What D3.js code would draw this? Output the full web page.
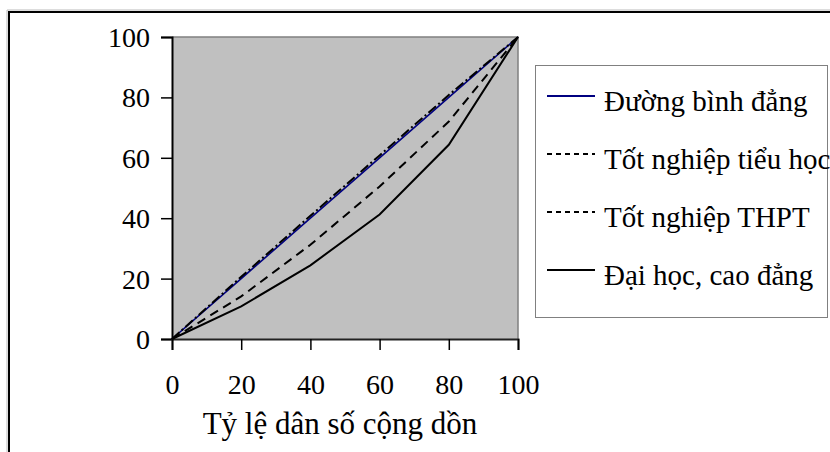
<!DOCTYPE html>
<html>
<head>
<meta charset="utf-8">
<script src="https://cdn.jsdelivr.net/npm/d3@7"></script>
<style>
  html, body { margin: 0; padding: 0; background: #fff; }
  svg { display: block; }
</style>
</head>
<body>
<svg id="chart" width="830" height="452"></svg>
<script>
// Cumulative population share (x) and cumulative share (y), in percent
const populationShare = [0, 20, 40, 60, 80, 100];
const equalityLine   = [0, 20, 40, 60, 80, 100];
const primaryGrad    = [0, 20.6, 40.8, 60.8, 80.8, 100];
const highSchoolGrad = [0, 14.1, 31.2, 50.5, 72, 100];
const universityGrad = [0, 10.8, 24.4, 41.2, 64.3, 100];
const xTicks = [0, 20, 40, 60, 80, 100];
const yTicks = [0, 20, 40, 60, 80, 100];
const seriesNames = ["Đường bình đẳng", "Tốt nghiệp tiểu học", "Tốt nghiệp THPT", "Đại học, cao đẳng"];
const xTitle = "Tỷ lệ dân số cộng dồn";

const FONT = "Liberation Serif";
const svg = d3.select("#chart");

// Outer chart frame
svg.append("path")
  .attr("d", "M7,452 V10 H830")
  .attr("fill", "none").attr("stroke", "#bbb").attr("stroke-width", 1);
svg.append("path")
  .attr("d", "M9,452 V12 H830")
  .attr("fill", "none").attr("stroke", "#000").attr("stroke-width", 2);

const plot = { left: 172, right: 518, top: 37, bottom: 339 };
const x = d3.scaleLinear().domain([0, 100]).range([plot.left, plot.right]);
const y = d3.scaleLinear().domain([0, 100]).range([plot.bottom, plot.top]);

// Plot area background
svg.append("rect")
  .attr("x", plot.left).attr("y", plot.top)
  .attr("width", plot.right - plot.left).attr("height", plot.bottom - plot.top)
  .attr("fill", "#c0c0c0");
svg.append("path")
  .attr("d", `M${plot.left},${plot.top} H${plot.right} V${plot.bottom}`)
  .attr("fill", "none").attr("stroke", "#808080").attr("stroke-width", 1.5);

// Axes
const yAxis = d3.axisLeft(y).tickValues(yTicks).tickSize(11).tickPadding(11).tickFormat(d3.format("d"));
const gy = svg.append("g").attr("transform", `translate(${plot.left},0)`).call(yAxis)
  .attr("font-family", FONT).attr("font-size", 28);
gy.select(".domain").attr("stroke", "#000").attr("stroke-width", 2);
gy.selectAll(".tick line").attr("stroke", "#000").attr("stroke-width", 1.5);
gy.selectAll(".tick text").attr("fill", "#000").attr("dy", "0.34em");

const xAxis = d3.axisBottom(x).tickValues(xTicks).tickSize(11).tickPadding(24).tickFormat(d3.format("d"));
const gx = svg.append("g").attr("transform", `translate(0,${plot.bottom})`).call(xAxis)
  .attr("font-family", FONT).attr("font-size", 28);
gx.select(".domain").attr("stroke", "#222").attr("stroke-width", 2);
gx.selectAll(".tick line").attr("stroke", "#000").attr("stroke-width", 1.5);
gx.selectAll(".tick text").attr("fill", "#000").attr("dy", "0.71em");

svg.append("text")
  .attr("x", x(50) - 5).attr("y", 434)
  .attr("text-anchor", "middle")
  .attr("font-family", FONT).attr("font-size", 31)
  .text(xTitle);

// Curves
const line = d3.line().x((d, i) => x(populationShare[i])).y(d => y(d));
const series = [
  { values: equalityLine,   stroke: "#000080", width: 1.6, dash: null },
  { values: primaryGrad,    stroke: "#000",    width: 2,   dash: "10,3,2,3" },
  { values: highSchoolGrad, stroke: "#000",    width: 2,   dash: "9,6" },
  { values: universityGrad, stroke: "#000",    width: 2,   dash: null }
];
series.forEach(s => {
  svg.append("path")
    .datum(s.values)
    .attr("d", line)
    .attr("fill", "none")
    .attr("stroke", s.stroke)
    .attr("stroke-width", s.width)
    .attr("stroke-dasharray", s.dash);
});

// Legend
const legend = svg.append("g");
legend.append("rect")
  .attr("x", 535.5).attr("y", 65.5).attr("width", 292).attr("height", 252)
  .attr("fill", "#fff").attr("stroke", "#000").attr("stroke-width", 1)
  .attr("stroke-dasharray", "1,1");
const legendDash = [null, "5,4", "5,4", null];
seriesNames.forEach((name, i) => {
  const cy = 96 + i * 58;
  legend.append("line")
    .attr("x1", 547).attr("x2", 595).attr("y1", cy).attr("y2", cy)
    .attr("stroke", series[i].stroke).attr("stroke-width", 2)
    .attr("stroke-dasharray", legendDash[i]);
  legend.append("text")
    .attr("x", 604).attr("y", cy + 15)
    .attr("font-family", FONT).attr("font-size", 29)
    .attr("fill", "#000")
    .text(name);
});
</script>
</body>
</html>
